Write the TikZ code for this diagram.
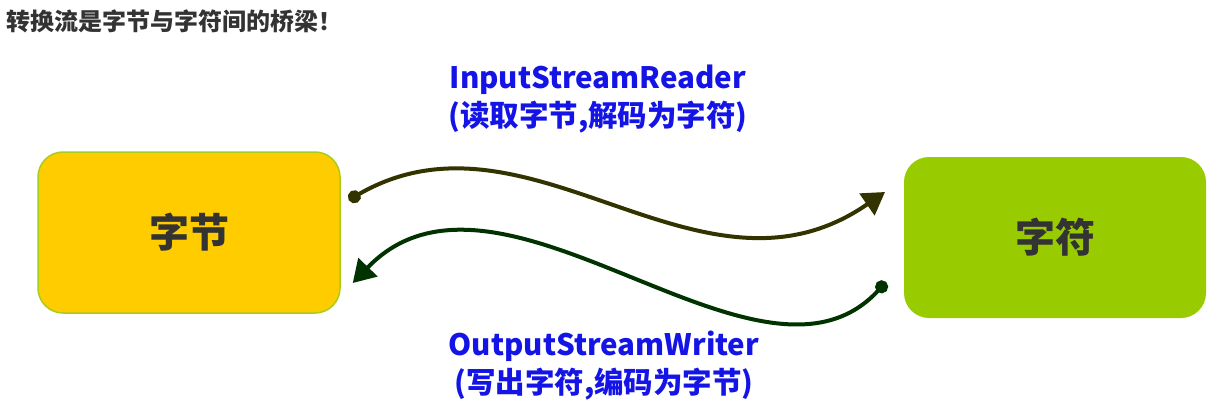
\documentclass[tikz,border=0pt]{standalone}
\usepackage{fontspec}
\setmainfont{Noto Sans CJK SC}
\usetikzlibrary{arrows.meta}
\definecolor{boxyellow}{HTML}{FFCC00}
\definecolor{boxgreen}{HTML}{99CC00}
\definecolor{edgegreen}{HTML}{A8CC1A}
\definecolor{txtgray}{HTML}{333333}
\definecolor{lblblue}{HTML}{1414E6}
\definecolor{arrowolive}{HTML}{333300}
\definecolor{arrowgreen}{HTML}{003300}
\begin{document}
\begin{tikzpicture}[x=1pt,y=1pt,
  box/.style={rounded corners=25pt, minimum width=302pt, minimum height=161pt, inner sep=0pt,
    font=\fontsize{40}{42}\selectfont\bfseries, text=txtgray},
  lbl/.style={text=lblblue, font=\fontsize{29.5}{38}\selectfont\bfseries, align=center, inner sep=0pt},
  flow/.style={line width=4pt, {Circle[length=13pt]}-{Triangle[length=22pt,width=26pt]}}]
\useasboundingbox (0,0) rectangle (1222,-412);
\node[anchor=west, inner sep=0pt, text=txtgray, font=\fontsize{24}{26}\selectfont\bfseries] (title) at (6,-21) {转换流是字节与字符间的桥梁！};
\node[box, fill=boxyellow, draw=edgegreen, line width=1.5pt] (bytes) at (189,-232.5) {字节};
\node[box, fill=boxgreen] (chars) at (1055,-237.5) {字符};
\coordinate (a1) at ([xshift=8pt]bytes.east |- 0,-200);
\coordinate (a2) at (885,-192);
\coordinate (b1) at (886,-282);
\coordinate (b2) at ([xshift=12pt]bytes.east |- 0,-283);
\draw[flow, arrowolive] (a1) .. controls (530,-95) and (700,-320) .. (a2);
\draw[flow, arrowgreen] (b1) .. controls (760,-420) and (500,-130) .. (b2);
\node[lbl] (top) at (598,-99) {InputStreamReader\\(读取字节,解码为字符)};
\node[lbl] (bot) at (604,-366) {OutputStreamWriter\\(写出字符,编码为字节)};
\end{tikzpicture}
\end{document}
